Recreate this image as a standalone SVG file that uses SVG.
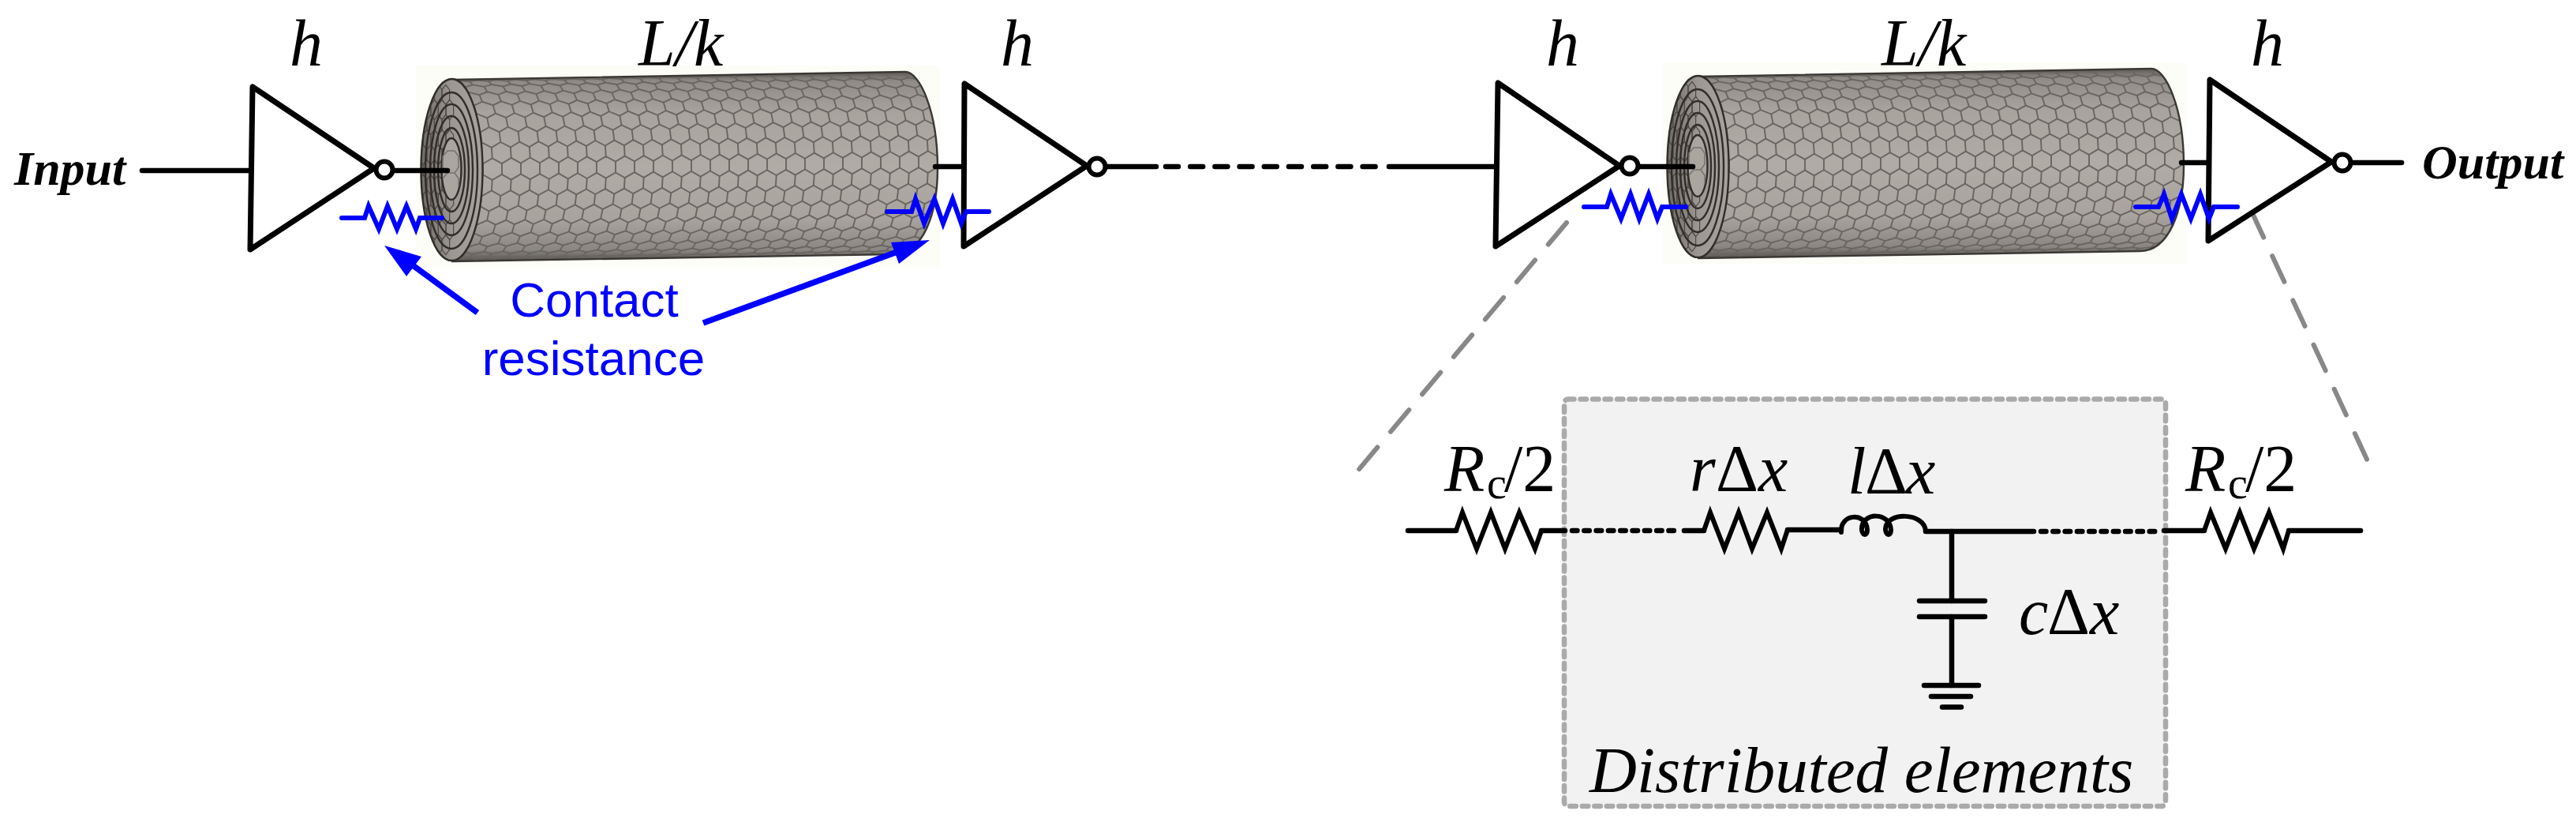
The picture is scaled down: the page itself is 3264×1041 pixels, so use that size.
<svg xmlns="http://www.w3.org/2000/svg" xmlns:xlink="http://www.w3.org/1999/xlink" width="3264" height="1041" viewBox="0 0 3264 1041">
<style>
text{font-family:"Liberation Serif","Times New Roman",serif;fill:#000}
.lab{font-size:84px;font-style:italic}
.up{font-style:normal}
.sub{font-size:56px;font-style:normal}
.io{font-size:62px;font-style:italic;font-weight:bold}
.blue{font-family:"Liberation Sans",Arial,sans-serif;font-size:62px;fill:#0000ff;text-anchor:middle}
.dist{font-size:83px;font-style:italic}
.inv{fill:#fff;stroke:#000;stroke-width:7;stroke-linejoin:round}
.bub{fill:#fff;stroke:#000;stroke-width:6}
.w{fill:none;stroke:#000;stroke-width:6.5;stroke-linecap:round;stroke-linejoin:round}
.wd{stroke-dasharray:16 15.2}
.wt{stroke-dasharray:6.5 8.8}
.res{fill:none;stroke:#000;stroke-width:6;stroke-linejoin:miter;stroke-linecap:round}
.bres{fill:none;stroke:#0000ff;stroke-width:6;stroke-linecap:round}
.bar{fill:none;stroke:#0000ff;stroke-width:7.5}
.bhd{fill:#0000ff}
.lead{fill:none;stroke:#888;stroke-width:6;stroke-linecap:round;stroke-dasharray:36 26}
.hexc{fill:none;stroke:#6a6560;stroke-width:1.9;vector-effect:non-scaling-stroke}
.hexf{fill:none;stroke:#4e4a46;stroke-width:1.2;vector-effect:non-scaling-stroke}
.ring{fill:none;stroke:#302d2a;stroke-width:2.4}
</style>
<defs>
<linearGradient id="gBody" x1="0" y1="0" x2="0" y2="1">
<stop offset="0" stop-color="#5f5c58"/><stop offset=".05" stop-color="#8f8b86"/><stop offset=".22" stop-color="#a8a39d"/><stop offset=".5" stop-color="#b0aba5"/><stop offset=".78" stop-color="#a8a39d"/><stop offset=".94" stop-color="#8a8681"/><stop offset="1" stop-color="#55524e"/>
</linearGradient>
<linearGradient id="gFace" x1="0" y1="0" x2="1" y2="0">
<stop offset="0" stop-color="#6f6b67"/><stop offset=".5" stop-color="#9c9791"/><stop offset="1" stop-color="#a8a39d"/>
</linearGradient>
<clipPath id="cBody"><path d="M572,101 L1147,91 C1165,91 1188,140 1188,213 C1188,270 1170,322 1132,322 L572,331 C551,331 533,280 533,215 C533,150 551,101 572,101 Z"/></clipPath>
<clipPath id="cFace"><ellipse cx="572.5" cy="215" rx="39" ry="115"/></clipPath>
<path id="vv" class="hexc" d="M0,0v1M24,0v1M48,0v1M72,0v1M96,0v1M120,0v1M144,0v1M168,0v1M192,0v1M216,0v1M240,0v1M264,0v1M288,0v1M312,0v1M336,0v1M360,0v1M384,0v1M408,0v1M432,0v1M456,0v1M480,0v1M504,0v1M528,0v1M552,0v1M576,0v1M600,0v1M624,0v1M648,0v1M672,0v1M696,0v1"/>
<path id="zz" class="hexc" d="M0,0l12,1l12,-1l12,1l12,-1l12,1l12,-1l12,1l12,-1l12,1l12,-1l12,1l12,-1l12,1l12,-1l12,1l12,-1l12,1l12,-1l12,1l12,-1l12,1l12,-1l12,1l12,-1l12,1l12,-1l12,1l12,-1l12,1l12,-1l12,1l12,-1l12,1l12,-1l12,1l12,-1l12,1l12,-1l12,1l12,-1l12,1l12,-1l12,1l12,-1l12,1l12,-1l12,1l12,-1l12,1l12,-1l12,1l12,-1l12,1l12,-1l12,1l12,-1l12,1l12,-1"/>
<path id="fx" class="hexf" d="M0,-14 l12,7 v14 l-12,7 l-12,-7 v-14 z"/>
<g id="fx4"><use xlink:href="#fx"/><use xlink:href="#fx" x="24"/><use xlink:href="#fx" x="48"/><use xlink:href="#fx" x="72"/></g>
<g id="cnt">
<rect x="527" y="83" width="664" height="256" fill="#fdfdf8"/>
<path d="M572,101 L1147,91 C1165,91 1188,140 1188,213 C1188,270 1170,322 1132,322 L572,331 C551,331 533,280 533,215 C533,150 551,101 572,101 Z" fill="url(#gBody)"/>
<g clip-path="url(#cBody)">
<g transform="matrix(1 -0.0165 0 1 0 9.44)">
<use xlink:href="#vv" transform="matrix(1 0 0 13.8 540 208.1)"/>
<use xlink:href="#vv" transform="matrix(1 0 -.82 13.5 551.72 228.8)"/>
<use xlink:href="#vv" transform="matrix(1 0 -1.7 12.9 538.3 249)"/>
<use xlink:href="#vv" transform="matrix(1 0 -2.4 11.8 547.6 268.1)"/>
<use xlink:href="#vv" transform="matrix(1 0 -3.1 10.4 531.8 285.5)"/>
<use xlink:href="#vv" transform="matrix(1 0 -3.6 8.6 539 300.6)"/>
<use xlink:href="#vv" transform="matrix(1 0 -4.1 6.5 521.4 313)"/>
<use xlink:href="#vv" transform="matrix(1 0 -4.4 4.2 527.1 322.2)"/>
<use xlink:href="#vv" transform="matrix(1 0 -4.6 1.8 508.4 327.9)"/>
<use xlink:href="#vv" transform="matrix(1 0 .82 13.5 550.9 187.7)"/>
<use xlink:href="#vv" transform="matrix(1 0 1.7 12.9 536.6 168.1)"/>
<use xlink:href="#vv" transform="matrix(1 0 2.4 11.8 545.2 150.1)"/>
<use xlink:href="#vv" transform="matrix(1 0 3.1 10.4 528.7 134.1)"/>
<use xlink:href="#vv" transform="matrix(1 0 3.6 8.6 535.4 120.8)"/>
<use xlink:href="#vv" transform="matrix(1 0 4.1 6.5 517.3 110.5)"/>
<use xlink:href="#vv" transform="matrix(1 0 4.4 4.2 522.7 103.6)"/>
<use xlink:href="#vv" transform="matrix(1 0 4.6 1.8 503.8 100.3)"/>
<use xlink:href="#zz" transform="matrix(1 0 -.21 6.9 539.93 221.9)"/>
<use xlink:href="#zz" transform="matrix(1 0 -.6 6.7 550.9 242.3)"/>
<use xlink:href="#zz" transform="matrix(1 0 -1 6.2 536.6 261.9)"/>
<use xlink:href="#zz" transform="matrix(1 0 -1.4 5.6 545.2 279.9)"/>
<use xlink:href="#zz" transform="matrix(1 0 -1.7 4.7 528.7 295.9)"/>
<use xlink:href="#zz" transform="matrix(1 0 -2 3.8 535.4 309.2)"/>
<use xlink:href="#zz" transform="matrix(1 0 -2.2 2.7 517.3 319.5)"/>
<use xlink:href="#zz" transform="matrix(1 0 -2.3 1.5 522.7 326.4)"/>
<use xlink:href="#zz" transform="matrix(1 0 .21 6.9 551.72 201.2)"/>
<use xlink:href="#zz" transform="matrix(1 0 .6 6.7 538.3 181)"/>
<use xlink:href="#zz" transform="matrix(1 0 1 6.2 547.6 161.9)"/>
<use xlink:href="#zz" transform="matrix(1 0 1.4 5.6 531.8 144.5)"/>
<use xlink:href="#zz" transform="matrix(1 0 1.7 4.7 539 129.4)"/>
<use xlink:href="#zz" transform="matrix(1 0 2 3.8 521.4 117)"/>
<use xlink:href="#zz" transform="matrix(1 0 2.2 2.7 527.1 107.8)"/>
<use xlink:href="#zz" transform="matrix(1 0 2.3 1.5 508.4 102.1)"/>
</g>
</g>
<path d="M572,101 L1147,91 C1165,91 1188,140 1188,213 C1188,270 1170,322 1132,322 L572,331" fill="none" stroke="#3a3734" stroke-width="2.4"/>
<ellipse cx="572.5" cy="215" rx="39" ry="115" fill="url(#gFace)"/>
<g clip-path="url(#cFace)">
<use xlink:href="#fx4" transform="translate(536,120) scale(.4,.9)"/><use xlink:href="#fx4" transform="translate(541,139) scale(.4,.9)"/><use xlink:href="#fx4" transform="translate(536,158) scale(.4,.9)"/><use xlink:href="#fx4" transform="translate(541,177) scale(.4,.9)"/><use xlink:href="#fx4" transform="translate(536,196) scale(.4,.9)"/><use xlink:href="#fx4" transform="translate(541,215) scale(.4,.9)"/><use xlink:href="#fx4" transform="translate(536,234) scale(.4,.9)"/><use xlink:href="#fx4" transform="translate(541,253) scale(.4,.9)"/><use xlink:href="#fx4" transform="translate(536,272) scale(.4,.9)"/><use xlink:href="#fx4" transform="translate(541,291) scale(.4,.9)"/><use xlink:href="#fx4" transform="translate(536,310) scale(.4,.9)"/>
</g>
<ellipse class="ring" cx="572.5" cy="215" rx="39" ry="115"/>
<ellipse class="ring" cx="572" cy="216" rx="33" ry="99"/>
<ellipse class="ring" cx="572" cy="215" rx="27" ry="83"/>
<ellipse class="ring" cx="572" cy="215" rx="22" ry="68"/>
<ellipse class="ring" cx="572" cy="215" rx="17" ry="53"/>
<ellipse cx="572" cy="214" rx="12.5" ry="39" fill="#aaa59f" stroke="#302d2a" stroke-width="2.4"/>
<path d="M561,198 l6,-7 h9 l5,7 v14 l-5,7 h-9 l-6,-7 z M561,226 l6,-7 M576,219 l5,7 v10" fill="none" stroke="#77726d" stroke-width="1.5"/>
</g>
</defs>
<rect width="3264" height="1041" fill="#fff"/>

<g id="nanotube-1"><use xlink:href="#cnt"/></g>
<g id="nanotube-2"><use xlink:href="#cnt" transform="translate(1579,-4)"/></g>

<g id="distributed-box">
<rect x="1982" y="505.5" width="762" height="515.5" rx="5" fill="#f2f2f2" stroke="#aaa" stroke-width="6.5" stroke-linecap="round" stroke-dasharray="7.5 8"/>
<text class="dist" x="2014" y="1003">Distributed elements</text>
</g>

<g id="connectors">
<path class="w" d="M180,216 H317"/>
<path class="w" d="M500,216 H567"/>
<path class="w" d="M1185,211 H1221"/>
<path class="w" d="M1403,211 H1465"/>
<path class="w wd" d="M1477,211 H1757"/>
<path class="w" d="M1760,211 H1895"/>
<path class="w" d="M2077,211 H2145"/>
<path class="w" d="M2764,206 H2798"/>
<path class="w" d="M2980,206 H3043"/>
<path class="lead" d="M1985,282 L1718,599"/>
<path class="lead" d="M2853,268 L3001,586"/>
<path class="w" d="M1784,672 H1845"/>
<path class="w" d="M1953,672 H1983"/>
<path class="w wt" d="M1992,672 H2126"/>
<path class="w" d="M2134,672 H2159"/>
<path class="w" d="M2265,671 H2333"/>
<path class="w" d="M2440,673 H2577"/>
<path class="w wt" d="M2586,673 H2734"/>
<path class="w" d="M2742,672 H2793"/>
<path class="w" d="M2900,672 H2991"/>
<path class="w" d="M2473,673 V761"/>
<path class="w" d="M2473,781 V868"/>
</g>

<g id="inverter-1"><polygon class="inv" points="320,110 317,316 474,213"/><circle class="bub" cx="487" cy="215" r="10.5"/><text class="lab" x="367" y="83">h</text></g>
<g id="inverter-2"><polygon class="inv" points="1222,106 1221,312 1377,210"/><circle class="bub" cx="1390" cy="211" r="10.5"/><text class="lab" x="1268" y="83">h</text></g>
<g id="inverter-3"><polygon class="inv" points="1898,105 1895,312 2052,210"/><circle class="bub" cx="2065" cy="210" r="10.5"/><text class="lab" x="1959" y="83">h</text></g>
<g id="inverter-4"><polygon class="inv" points="2800,101 2798,305 2954,205"/><circle class="bub" cx="2968" cy="206" r="10.5"/><text class="lab" x="2852" y="83">h</text></g>

<g id="contact-resistors">
<path class="bres" d="M433,276 H462 L467,261 L480,290 L491,261 L503,290 L515,261 L527,290 L532,276 H560"/>
<path class="bres" d="M1124,268 H1155 L1160,252 L1171,283 L1184,252 L1195,283 L1207,252 L1218,283 L1224,268 H1253"/>
<path class="bres" d="M2007,262 H2036 L2041,246 L2054,277 L2066,246 L2077,277 L2089,246 L2100,277 L2106,262 H2136"/>
<path class="bres" d="M2706,262 H2735 L2742,246 L2752,277 L2764,246 L2776,277 L2788,246 L2799,277 L2805,262 H2835"/>
</g>

<g id="contact-label">
<path class="bar" d="M605,396 L523,336"/>
<polygon class="bhd" points="487,311 534,325 515,350"/>
<path class="bar" d="M891,409 L1134,320"/>
<polygon class="bhd" points="1178,304 1129,307 1139,334"/>
<text class="blue" x="753" y="401">Contact</text>
<text class="blue" x="752" y="475">resistance</text>
</g>

<g id="io-labels">
<text class="io" x="18" y="234">Input</text>
<text class="io" x="3069" y="226">Output</text>
<text class="lab" x="809" y="83">L/k</text>
<text class="lab" x="2384" y="83">L/k</text>
</g>

<g id="Rc-left">
<path class="res" d="M1845,672 L1853,649 L1871,695 L1889,649 L1907,695 L1925,649 L1945,695 L1953,672"/>
<text class="lab" x="1830" y="622">R<tspan class="sub" x="1884" y="631">c</tspan><tspan class="up" x="1906" y="622">/2</tspan></text>
</g>
<g id="r-dx">
<path class="res" d="M2159,672 L2167,649 L2185,695 L2203,649 L2220,695 L2239,649 L2257,695 L2265,671"/>
<text class="lab" x="2141" y="622">r<tspan class="up" x="2174" y="622">Δ</tspan><tspan x="2228" y="622">x</tspan></text>
</g>
<g id="l-dx">
<path class="res" d="M2333,674 C2331,650 2365,648 2366,671 C2366,680 2359,678 2359,670 C2359,648 2395,648 2396,671 C2396,680 2389,678 2389,670 C2389,648 2439,648 2440,673"/>
<text class="lab" x="2341" y="625">l<tspan class="up" x="2363" y="625">Δ</tspan><tspan x="2415" y="625">x</tspan></text>
</g>
<g id="c-dx">
<path class="w" d="M2432,761 H2515"/>
<path class="w" d="M2432,781 H2515"/>
<path class="w" d="M2438,868 H2507"/>
<path class="w" d="M2447,882 H2497"/>
<path class="w" d="M2461,895.5 H2485"/>
<text class="lab" x="2558" y="803">c<tspan class="up" x="2594" y="803">Δ</tspan><tspan x="2648" y="803">x</tspan></text>
</g>
<g id="Rc-right">
<path class="res" d="M2793,672 L2801,649 L2820,695 L2838,649 L2856,695 L2875,649 L2893,695 L2900,672"/>
<text class="lab" x="2769" y="622">R<tspan class="sub" x="2823" y="631">c</tspan><tspan class="up" x="2845" y="622">/2</tspan></text>
</g>
</svg>
